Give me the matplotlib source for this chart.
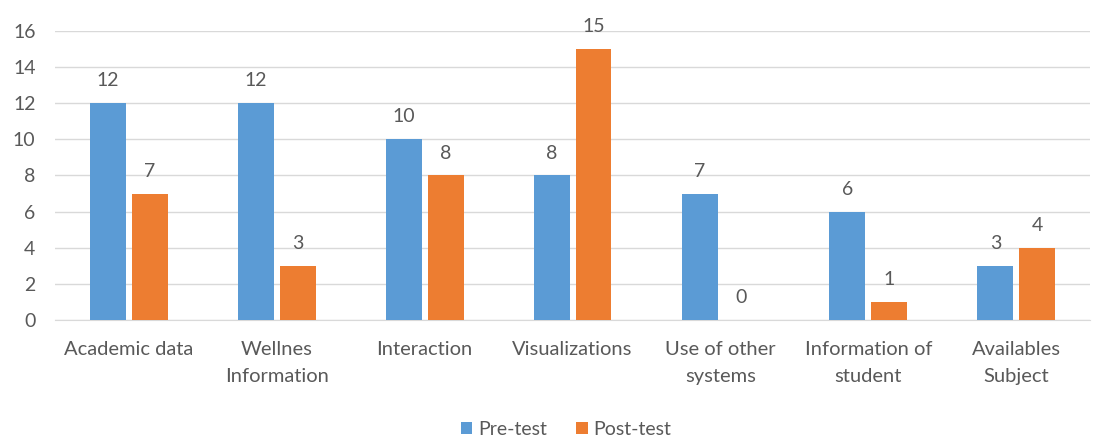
import matplotlib.pyplot as plt
import numpy as np

categories = ["Academic data", "Wellnes\nInformation", "Interaction", "Visualizations",
              "Use of other\nsystems", "Information of\nstudent", "Availables\nSubject"]
pre_test = [12, 12, 10, 8, 7, 6, 3]
post_test = [7, 3, 8, 15, 0, 1, 4]

plt.rcParams['font.family'] = ['Lato', 'DejaVu Sans']
text_color = '#595959'

fig = plt.figure(figsize=(10.99, 4.36), dpi=100)
ax = fig.add_axes([0.05, 0.266, 0.942, 0.663])

x = np.arange(len(categories))
w = 0.243
gap = 0.02
b1 = ax.bar(x - w / 2 - gap, pre_test, w, color='#5B9BD5', label='Pre-test', zorder=3)
b2 = ax.bar(x + w / 2 + gap, post_test, w, color='#ED7D31', label='Post-test', zorder=3)

for bars in (b1, b2):
    ax.bar_label(bars, padding=10, fontsize=14, color=text_color)

ax.set_ylim(0, 16)
ax.set_yticks(range(0, 17, 2))
ax.set_xlim(-0.5, len(categories) - 0.5)
ax.set_xticks(x)
ax.set_xticklabels(categories, fontsize=14.5, color=text_color, linespacing=1.75)
ax.tick_params(axis='y', labelsize=14, labelcolor=text_color, length=0, pad=14)
ax.tick_params(axis='x', length=0, pad=15)
ax.grid(axis='y', color='#D9D9D9', linewidth=1, zorder=0)
for s in ['top', 'right', 'left']:
    ax.spines[s].set_visible(False)
ax.spines['bottom'].set_color('#D9D9D9')

fig.legend(loc='lower center', bbox_to_anchor=(0.515, -0.045), ncol=2, frameon=False,
           fontsize=14, labelcolor=text_color, handlelength=0.6, handleheight=0.6,
           handletextpad=0.3, columnspacing=1.5)

fig.savefig('out.png', dpi=100)
